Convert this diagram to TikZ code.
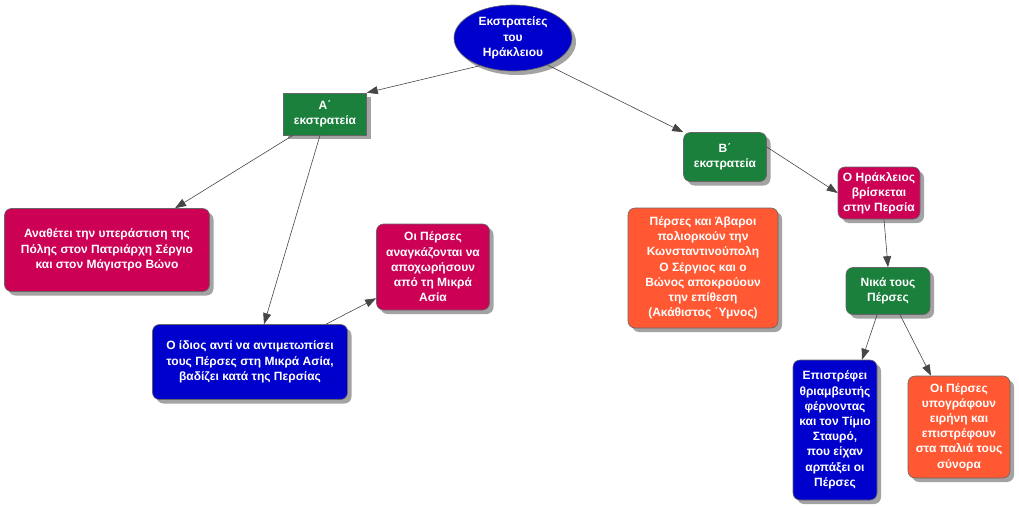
\documentclass[tikz,border=0pt]{standalone}
\usepackage{fontspec}
\setmainfont{Liberation Sans}
\usetikzlibrary{arrows.meta,shapes.geometric,shadows}
\definecolor{cblue}{RGB}{0,0,204}
\definecolor{cgreen}{RGB}{26,128,60}
\definecolor{ccrim}{RGB}{204,0,85}
\definecolor{corange}{RGB}{255,88,51}
\definecolor{cline}{RGB}{70,70,70}
\tikzset{
  base/.style={text=white, align=center, font=\fontsize{12}{15.2}\selectfont\bfseries,
    draw=black!60, line width=0.6pt, inner sep=0pt,
    drop shadow={shadow xshift=4pt, shadow yshift=-4pt, fill=black!45, opacity=0.8}},
  rbox/.style={base, rectangle, rounded corners=7pt},
  sbox/.style={base, rectangle},
  conn/.style={draw=cline, line width=0.6pt, -{Triangle[length=11pt,width=8pt]}}
}
\begin{document}
\begin{tikzpicture}[x=1pt,y=-1pt]
\useasboundingbox (0,0) rectangle (1019,508);
\node[base, ellipse, fill=cblue, minimum width=118pt, minimum height=66pt] (root) at (513,38) {Εκστρατείες\\του\\Ηράκλειου};
\node[sbox, fill=cgreen, minimum width=83pt, minimum height=42pt] (a) at (325,114) {Α΄\\εκστρατεία};
\node[rbox, fill=cgreen, minimum width=83pt, minimum height=49pt] (b) at (725,157) {Β΄\\εκστρατεία};
\node[rbox, fill=ccrim, minimum width=205pt, minimum height=83pt] (anath) at (107,250) {Αναθέτει την υπεράστιση της\\Πόλης στον Πατριάρχη Σέργιο\\και στον Μάγιστρο Βώνο};
\node[rbox, fill=ccrim, minimum width=113pt, minimum height=86pt] (anag) at (433,267) {Οι Πέρσες\\αναγκάζονται να\\αποχωρήσουν\\από τη Μικρά\\Ασία};
\node[rbox, fill=cblue, minimum width=195pt, minimum height=75pt] (idios) at (250,362) {Ο ίδιος αντί να αντιμετωπίσει\\τους Πέρσες στη Μικρά Ασία,\\βαδίζει κατά της Περσίας};
\node[rbox, fill=ccrim, minimum width=82pt, minimum height=52pt] (hrak) at (879,193) {Ο Ηράκλειος\\βρίσκεται\\στην Περσία};
\node[rbox, fill=corange, minimum width=150pt, minimum height=120pt] (abar) at (703,268) {Πέρσες και Άβαροι\\πολιορκούν την\\Κωνσταντινούπολη\\Ο Σέργιος και ο\\Βώνος αποκρούουν\\την επίθεση\\(Ακάθιστος ΄Υμνος)};
\node[rbox, fill=cgreen, minimum width=84pt, minimum height=47pt] (nika) at (888,291) {Νικά τους\\Πέρσες};
\node[rbox, fill=cblue, minimum width=84pt, minimum height=140pt] (epis) at (835,430) {Επιστρέφει\\θριαμβευτής\\φέρνοντας\\και τον Τίμιο\\Σταυρό,\\που είχαν\\αρπάξει οι\\Πέρσες};
\node[rbox, fill=corange, minimum width=102pt, minimum height=102pt] (ypog) at (959,427) {Οι Πέρσες\\υπογράφουν\\ειρήνη και\\επιστρέφουν\\στα παλιά τους\\σύνορα};
\draw[conn] (root.220) -- (a.north east);
\draw[conn] (root.-38) -- (b.north west);
\draw[conn] ([xshift=-32pt]a.south) -- ([xshift=68pt]anath.north);
\draw[conn] ([xshift=-5pt]a.south) -- ([xshift=14pt]idios.north);
\draw[conn] ([xshift=76pt]idios.north) -- ([yshift=12pt]anag.south west);
\draw[conn] ([yshift=10pt]b.east) -- (hrak.west);
\draw[conn] ([xshift=5pt]hrak.south) -- (nika.north);
\draw[conn] ([xshift=-11pt]nika.south) -- ([xshift=27pt]epis.north);
\draw[conn] ([xshift=12pt]nika.south) -- ([xshift=-28pt]ypog.north);
\end{tikzpicture}
\end{document}
